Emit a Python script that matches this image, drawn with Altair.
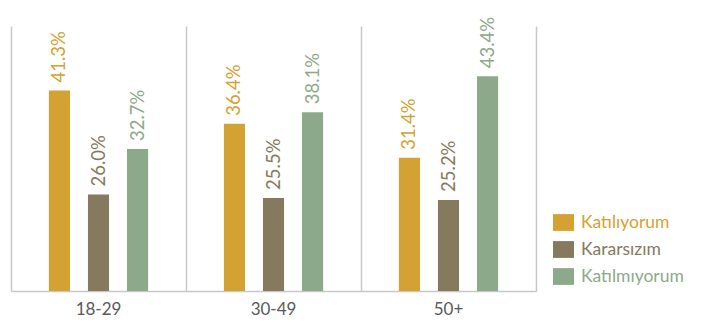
import altair as alt
import pandas as pd

groups = ["18-29", "30-49", "50+"]
series = ["Katılıyorum", "Kararsızım", "Katılmıyorum"]
colors = ["#D4A232", "#857A5D", "#8CAA8A"]
katiliyorum = [41.3, 36.4, 31.4]
kararsizim = [26.0, 25.5, 25.2]
katilmiyorum = [32.7, 38.1, 43.4]

rows = []
for s, vals in zip(series, [katiliyorum, kararsizim, katilmiyorum]):
    for g, v in zip(groups, vals):
        rows.append({"group": g, "series": s, "value": v})
df = pd.DataFrame(rows)

FONT = "Lato"
YMIN, YMAX = 11.8, 50.8

color_expr = (
    "datum.value == '" + series[0] + "' ? '" + colors[0] + "' : "
    "datum.value == '" + series[1] + "' ? '" + colors[1] + "' : '" + colors[2] + "'"
)

x_enc = alt.X(
    "group:N",
    sort=groups,
    scale=alt.Scale(paddingInner=0, paddingOuter=0),
    axis=alt.Axis(
        title=None, ticks=False, labelAngle=0, labelFont=FONT, labelFontSize=17,
        labelColor="#595959", labelPadding=10, domainColor="#C8C8C8", domainWidth=1.5,
        grid=True, gridColor="#C8C8C8", gridWidth=1.5, bandPosition=0,
    ),
)
xoff = alt.XOffset("series:N", sort=series,
                   scale=alt.Scale(paddingInner=0.46, paddingOuter=0.97))
y_enc = alt.Y(
    "value:Q",
    scale=alt.Scale(domain=[YMIN, YMAX], zero=False, nice=False),
    axis=alt.Axis(orient="right", labels=False, ticks=False, grid=False, title=None,
                  domainColor="#C8C8C8", domainWidth=1.5),
)

base = alt.Chart(df)

bars = base.mark_bar().encode(
    x=x_enc,
    xOffset=xoff,
    y=y_enc,
    y2=alt.datum(YMIN),
    color=alt.Color(
        "series:N",
        scale=alt.Scale(domain=series, range=colors),
        legend=alt.Legend(
            orient="none", legendX=542, legendY=186, title=None,
            symbolType="M-1,-0.8H1V0.8H-1Z", symbolSize=441, symbolStrokeWidth=0,
            symbolOpacity=1, labelFont=FONT, labelFontSize=17.5, labelOffset=7,
            rowPadding=8, padding=0, labelColor={"expr": color_expr},
        ),
    ),
)

labels = base.transform_calculate(
    label="format(datum.value, '.1f') + '%'"
).mark_text(
    angle=270, align="left", baseline="middle", dx=8, font=FONT, fontSize=18.5
).encode(
    x=x_enc,
    xOffset=xoff,
    y=y_enc,
    text="label:N",
    color=alt.Color("series:N", scale=alt.Scale(domain=series, range=colors), legend=None),
)

chart = alt.layer(bars, labels).properties(
    width=525, height=265,
    autosize=alt.AutoSizeParams(type="none"),
    padding={"left": 3, "top": 18, "right": 165, "bottom": 33},
).configure(background="white").configure_view(stroke=None)

chart.save("out.html", embed_options={"renderer": "svg", "actions": False})
